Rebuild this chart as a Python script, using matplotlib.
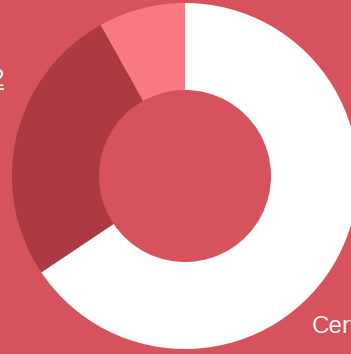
import matplotlib
matplotlib.use("Agg")
import matplotlib.pyplot as plt

categories = ["Certificate", "Category 2", "Category 3"]
values = [65.6, 26.3, 8.1]
colors = ["#ffffff", "#ad3a43", "#f87982"]
bg = "#d6525c"

W, H = 351, 354
fig = plt.figure(figsize=(W / 100, H / 100), dpi=100, facecolor=bg)
ax = fig.add_axes([0, 0, 1, 1])
ax.set_facecolor(bg)
ax.set_xlim(0, W)
ax.set_ylim(0, H)
ax.set_aspect("equal")
ax.axis("off")

cx, cy = 185, H - 176
R = 173
ax.pie(values, colors=colors, startangle=90, counterclock=False,
       center=(cx, cy), radius=R,
       wedgeprops=dict(width=R - 86, linewidth=0))
ax.set_xlim(0, W)
ax.set_ylim(0, H)

# labels (cut off by the figure edge, as in the reference)
ax.text(312, H - 333, categories[0], color="white", fontsize=17.5,
        family="Liberation Sans", ha="left", va="baseline", clip_on=False)
ax.text(4, H - 86, "2", color="white", fontsize=17.5,
        family="Liberation Sans", ha="right", va="baseline")
ax.plot([0, 4], [H - 89, H - 89], color="white", lw=1.2, solid_capstyle="butt")

fig.savefig("out.png", dpi=100, facecolor=bg)
